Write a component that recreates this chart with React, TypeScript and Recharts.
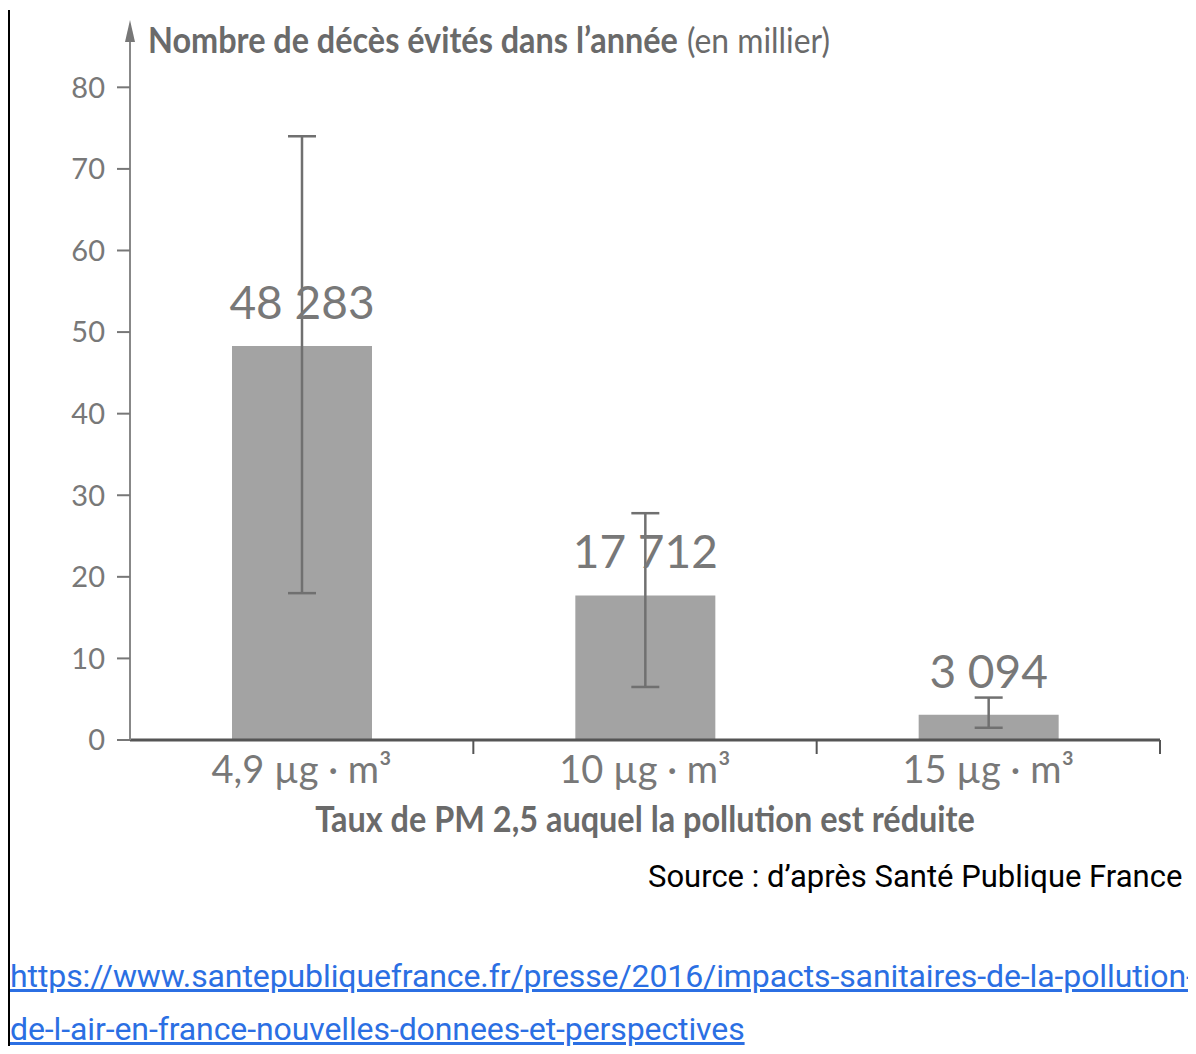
import { useLayoutEffect, useRef, useState } from 'react'
import { BarChart, Bar, XAxis, YAxis, ErrorBar, LabelList } from 'recharts'

// Taux de PM 2,5 (catégories)
const categories = ['4,9 µg · m³', '10 µg · m³', '15 µg · m³']
// décès évités, en milliers
const deaths = [48.283, 17.712, 3.094]
// intervalle (bornes basse / haute), en milliers
const lowBound = [18, 6.5, 1.5]
const highBound = [74, 27.8, 5.2]
const yTicks = [0, 10, 20, 30, 40, 50, 60, 70, 80]

const data = categories.map((name, i) => ({
  name,
  deaths: deaths[i],
  err: [deaths[i] - lowBound[i], highBound[i] - deaths[i]],
}))

const W = 1196
const H = 850
const MARGIN = { top: 40, right: 36, bottom: 0, left: 10 }
const Y_AXIS_W = 120
const BAND = (W - MARGIN.left - MARGIN.right - Y_AXIS_W) / categories.length

const GRAY = '#787878'
const DARK = '#6a6a6a'

function fmtThousands(v: number): string {
  return String(Math.round(v * 1000)).replace(/\B(?=(\d{3})+(?!\d))/g, ' ')
}

// texte compressé horizontalement pour tenir dans une largeur donnée (police condensée)
function FitText(props: any) {
  const { x, y, width, anchor = 'start', children, ...rest } = props
  const ref = useRef<SVGTextElement>(null)
  const [sx, setSx] = useState(1)
  useLayoutEffect(() => {
    if (ref.current) {
      const len = ref.current.getComputedTextLength()
      if (len > 0) setSx(width / len)
    }
  }, [width])
  return (
    <text ref={ref} transform={`translate(${x},${y}) scale(${sx},1)`} x={0} y={0} textAnchor={anchor} {...rest}>
      {children}
    </text>
  )
}

function CategoryTick(props: any) {
  const { x, y, payload } = props
  return (
    <g>
      <line x1={x + BAND / 2} x2={x + BAND / 2} y1={y} y2={y + 14} stroke="#555" strokeWidth={2} />
      <text x={x} y={y + 43} textAnchor="middle" fill={GRAY} fontSize={38} fontFamily="Lato">
        {payload.value}
      </text>
    </g>
  )
}

function YTitle(props: any) {
  const { viewBox } = props
  const ax = viewBox.x + viewBox.width
  const top = viewBox.y
  return (
    <g>
      <polygon points={`${ax},${top - 20} ${ax - 5},${top + 2} ${ax + 5},${top + 2}`} fill="#777" />
      <FitText x={ax + 18} y={top + 13} width={530} fill={DARK} fontFamily="Lato" fontSize={36} fontWeight="bold">
        Nombre de décès évités dans l’année
      </FitText>
      <FitText x={ax + 557} y={top + 13} width={143} fill={DARK} fontFamily="Lato" fontSize={34}>
        (en millier)
      </FitText>
    </g>
  )
}

function XTitle(props: any) {
  const { viewBox } = props
  return (
    <FitText
      x={viewBox.x + viewBox.width / 2}
      y={viewBox.y + 92}
      width={660}
      anchor="middle"
      fill={DARK}
      fontFamily="Lato"
      fontWeight="bold"
      fontSize={37}
    >
      Taux de PM 2,5 auquel la pollution est réduite
    </FitText>
  )
}

export default function App() {
  return (
    <div style={{ position: 'relative', margin: -8, width: W, height: 1054, overflow: 'hidden', background: '#fff' }}>
      <div style={{ position: 'absolute', left: 7, top: 10, width: 3, height: 1044, background: '#000' }} />
      <div style={{ position: 'absolute', left: 0, top: 0 }}>
        <BarChart width={W} height={H} data={data} margin={MARGIN}>
          <XAxis
            dataKey="name"
            height={110}
            tick={<CategoryTick />}
            tickLine={false}
            tickSize={0}
            tickMargin={0}
            interval={0}
            axisLine={{ stroke: '#555', strokeWidth: 3 }}
            label={<XTitle />}
          />
          <YAxis
            width={Y_AXIS_W}
            domain={[0, 85.8]}
            ticks={yTicks}
            allowDataOverflow
            tickSize={13}
            tickMargin={12}
            tickLine={{ stroke: '#777', strokeWidth: 2 }}
            axisLine={{ stroke: '#888', strokeWidth: 2 }}
            tick={{ fill: GRAY, fontSize: 29, fontFamily: 'Lato' }}
            label={<YTitle />}
          />
          <Bar dataKey="deaths" fill="#a3a3a3" barSize={140} isAnimationActive={false}>
            <ErrorBar dataKey="err" width={14} stroke="#707070" strokeWidth={2.5} />
            <LabelList
              dataKey="deaths"
              position="top"
              offset={27}
              formatter={(v: any) => fmtThousands(Number(v))}
              fill={GRAY}
              fontSize={46}
              fontFamily="Lato"
            />
          </Bar>
        </BarChart>
      </div>
      <div
        style={{
          position: 'absolute',
          left: 648,
          top: 858,
          fontFamily: 'Roboto',
          fontSize: 31,
          lineHeight: '37px',
          color: '#000',
          whiteSpace: 'nowrap',
        }}
      >
        Source : d’après Santé Publique France
      </div>
      <div
        style={{
          position: 'absolute',
          left: 10,
          top: 950,
          fontFamily: 'Roboto',
          fontSize: 32,
          lineHeight: '53px',
          color: '#2b6fe3',
          textDecoration: 'underline',
          whiteSpace: 'nowrap',
          letterSpacing: -0.1,
        }}
      >
        <div>https://www.santepubliquefrance.fr/presse/2016/impacts-sanitaires-de-la-pollution-</div>
        <div>de-l-air-en-france-nouvelles-donnees-et-perspectives</div>
      </div>
    </div>
  )
}
